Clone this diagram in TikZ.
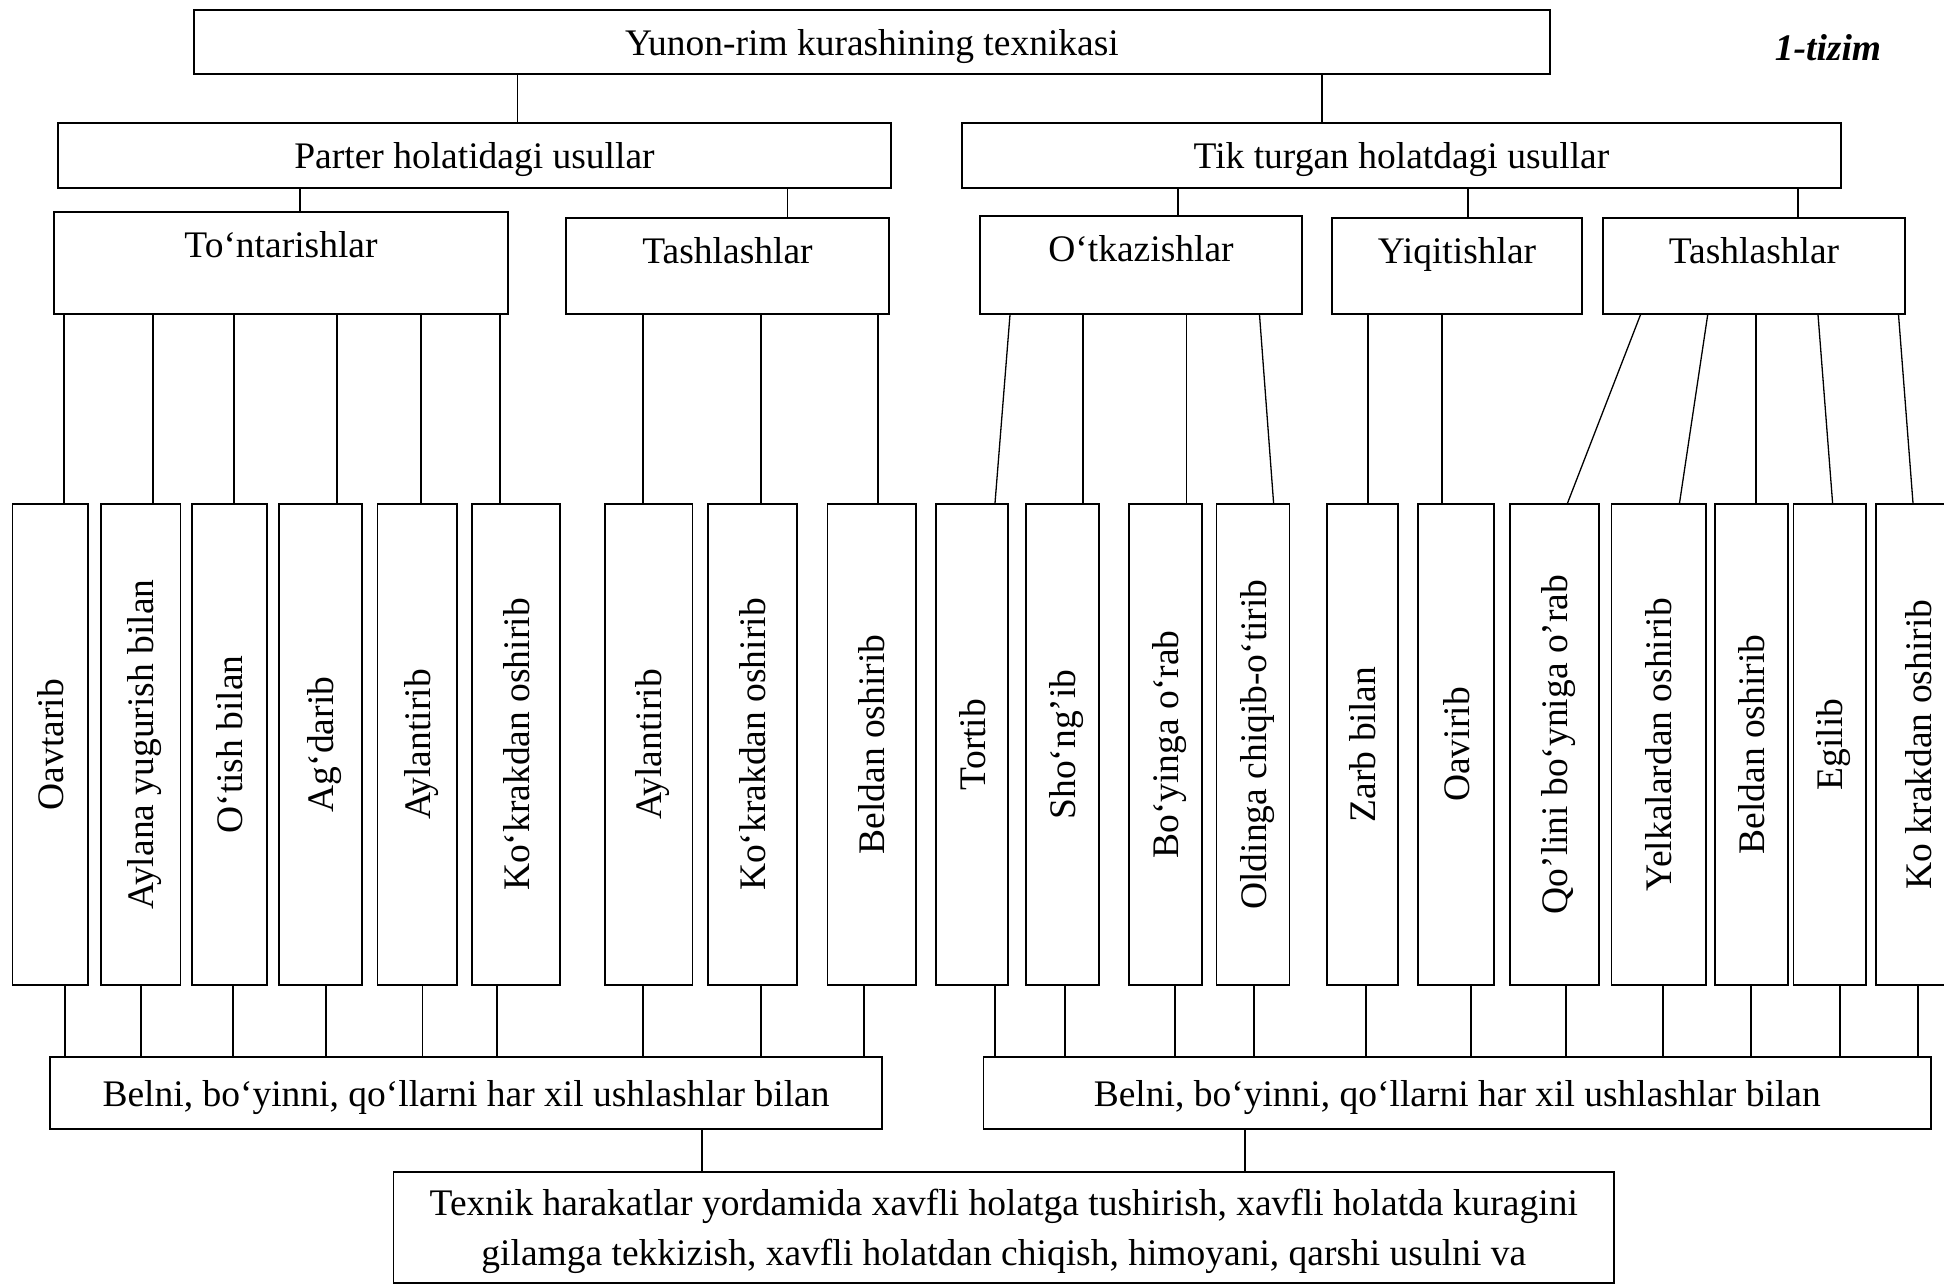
\documentclass[tikz,border=0pt]{standalone}
\usepackage{fontspec}
\setmainfont{Liberation Serif}
\usepackage{graphicx}
\newcommand\boxfont{\fontsize{37.5}{50}\selectfont}

\begin{document}
\begin{tikzpicture}
[x=1pt,y=-1pt,%
  box/.style={draw,line width=1.7pt,inner sep=0pt,font=\boxfont},%
  bar/.style={box,text depth=0pt},%
  group/.style={box,anchor=north,text height=45.5pt},%
  tall/.style={box,minimum height=481pt},%
  link/.style={line width=1.3pt}]
\useasboundingbox (0,0) rectangle (1944,1287);
\clip (0,0) rectangle (1944,1287);
% top levels
\node[bar,minimum width=1356pt,minimum height=64pt] (tech) at (872,42) {Yunon-rim kurashining texnikasi};
\node[font=\boxfont\bfseries\itshape] (tizim) at (1828,48) {1-tizim};
\node[bar,minimum width=833pt,minimum height=65pt] (parter) at (474.5,155.5) {Parter holatidagi usullar};
\node[bar,minimum width=879pt,minimum height=65pt] (tik) at (1401.5,155.5) {Tik turgan holatdagi usullar};
\node[group,minimum width=453.5pt,text depth=56.5pt] (tont) at (281,211) {To‘ntarishlar};
\node[group,minimum width=323pt,text depth=50.5pt] (tashA) at (727.5,217) {Tashlashlar};
\node[group,minimum width=322pt,text depth=52.5pt] (otk) at (1141,215) {O‘tkazishlar};
\node[group,minimum width=249.5pt,text depth=50.5pt] (yiq) at (1457,217) {Yiqitishlar};
\node[group,minimum width=302pt,text depth=50.5pt] (tashB) at (1754,217) {Tashlashlar};
% usullar
\foreach \i/\l/\r/\t in {1/12.5/88/Oavtarib, 2/101/180.6/Aylana yugurish bilan,
    3/192/267/O‘tish bilan, 4/279/362/Ag‘darib, 5/377.5/457/Aylantirib,
    6/472/560/Ko‘krakdan oshirib, 7/605/692.5/Aylantirib,
    8/708/797/Ko‘krakdan oshirib, 9/827.5/916/Beldan oshirib,
    10/936/1008/Tortib, 11/1026/1099/Sho‘ng’ib, 12/1129/1202/Bo‘yinga o‘rab,
    13/1216.6/1289.6/Oldinga chiqib-o‘tirib, 14/1327/1398/Zarb bilan,
    15/1418/1494/Oavirib, 16/1510/1599/Qo’lini bo‘yniga o’rab,
    17/1611.6/1706/Yelkalardan oshirib, 18/1715/1788/Beldan oshirib,
    19/1793.5/1866/Egilib, 20/1876/1960/Ko krakdan oshirib}
  \node[tall,minimum width={\r pt-\l pt}] (b\i) at ({(\l+\r)/2},744.5)
    {\rotatebox{90}{\raisebox{0pt}[\height][0pt]{\t}}};
% bottom levels
\node[bar,minimum width=832pt,minimum height=72pt] (belA) at (466,1093) {Belni, bo‘yinni, qo‘llarni har xil ushlashlar bilan};
\node[bar,minimum width=947.5pt,minimum height=72pt] (belB) at (1457.25,1093) {Belni, bo‘yinni, qo‘llarni har xil ushlashlar bilan};
\node[bar,minimum width=1220.5pt,minimum height=111pt,align=center] (res) at (1003.75,1227.4)
  {Texnik harakatlar yordamida xavfli holatga tushirish, xavfli holatda kuragini\\
   gilamga tekkizish, xavfli holatdan chiqish, himoyani, qarshi usulni va};
% connectors
\draw[link] (tech.south -| 517.5,0) -- (parter.north -| 517.5,0);
\draw[link] (tech.south -| 1322,0) -- (tik.north -| 1322,0);
\draw[link] (parter.south -| 300,0) -- (tont.north -| 300,0);
\draw[link] (parter.south -| 787.5,0) -- (tashA.north -| 787.5,0);
\foreach \n/\x in {otk/1178, yiq/1468, tashB/1798}
  \draw[link] (tik.south -| \x,0) -- (\n.north -| \x,0);
\foreach \p/\b/\xa/\xb in {tont/b1/64/64, tont/b2/153/153, tont/b3/234/234,
    tont/b4/337/337, tont/b5/421/421, tont/b6/500/500,
    tashA/b7/643/643, tashA/b8/761/761, tashA/b9/878/878,
    otk/b10/1010/995, otk/b11/1083/1083, otk/b12/1186.5/1186.5, otk/b13/1259.5/1273.6,
    yiq/b14/1368/1368, yiq/b15/1442/1442,
    tashB/b16/1640.5/1567.5, tashB/b17/1707.7/1679.5, tashB/b18/1756/1756,
    tashB/b19/1818/1832.6, tashB/b20/1898.5/1913}
  \draw[link] (\p.south -| \xa,0) -- (\b.north -| \xb,0);
\foreach \b/\x in {b1/65, b2/141, b3/233, b4/326, b5/422.5, b6/497, b7/643, b8/761, b9/864}
  \draw[link] (\b.south -| \x,0) -- (belA.north -| \x,0);
\foreach \b/\x in {b10/995, b11/1065, b12/1175, b13/1254, b14/1366, b15/1471,
    b16/1566, b17/1663, b18/1751, b19/1840, b20/1918}
  \draw[link] (\b.south -| \x,0) -- (belB.north -| \x,0);
\draw[link] (belA.south -| 702,0) -- (res.north -| 702,0);
\draw[link] (belB.south -| 1245,0) -- (res.north -| 1245,0);
\end{tikzpicture}
\end{document}
